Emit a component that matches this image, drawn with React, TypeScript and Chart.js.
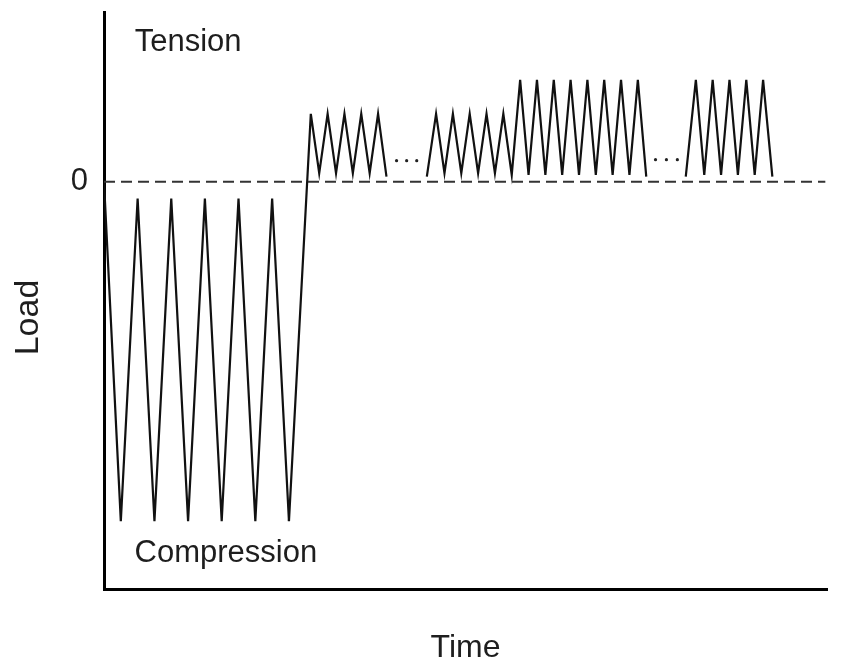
import React, { useEffect, useRef } from "react";
import { Chart, registerables } from "chart.js";

Chart.register(...registerables);

// ---- Data (time in arbitrary units, load in arbitrary units) ----
const compressionTime = [0, 1, 2, 3, 4, 5, 6, 7, 8, 9, 10, 11];
const compressionLoad = [0, -10, -0.5, -10, -0.5, -10, -0.5, -10, -0.5, -10, -0.5, -10];

const block1Time = [11, 12.3, 12.8, 13.3, 13.8, 14.3, 14.8, 15.3, 15.8, 16.3, 16.8];
const block1Load = [-10, 2, 0.25, 2, 0.25, 2, 0.25, 2, 0.25, 2, 0.15];

const block2Time = [
  19.2, 19.75, 20.25, 20.75, 21.25, 21.75, 22.25, 22.75, 23.25, 23.75, 24.25,
  24.75, 25.25, 25.75, 26.25, 26.75, 27.25, 27.75, 28.25, 28.75, 29.25, 29.75,
  30.25, 30.75, 31.25, 31.75, 32.25,
];
const block2Load = [
  0.15, 2, 0.25, 2, 0.25, 2, 0.25, 2, 0.25, 2, 0.2,
  3, 0.2, 3, 0.2, 3, 0.2, 3, 0.2, 3, 0.2, 3,
  0.2, 3, 0.2, 3, 0.15,
];

const block3Time = [34.6, 35.2, 35.7, 36.2, 36.7, 37.2, 37.7, 38.2, 38.7, 39.2, 39.75];
const block3Load = [0.15, 3, 0.2, 3, 0.2, 3, 0.2, 3, 0.2, 3, 0.15];

const zeroLineTime = [0, 42.9];
const zeroLineLoad = [0, 0];

const gapDots1Time = [17.4, 18.0, 18.6];
const gapDots1Load = [0.62, 0.62, 0.62];
const gapDots2Time = [32.8, 33.45, 34.1];
const gapDots2Load = [0.65, 0.65, 0.65];

const yTickValues = [0];
const xTitle = "Time";
const yTitle = "Load";
const yTitleLoad = -4.0; // vertical centre of the rotated y-axis title, in load units
const regionLabels = ["Tension", "Compression"];
const regionLabelTime = [5.0, 7.25];
const regionLabelLoad = [3.85, -11.2];

const FONT = "'Liberation Sans', Arial, Helvetica, sans-serif";
const TEXT_COLOR = "#1e1e1e";

const toPoints = (xs: number[], ys: number[]) => xs.map((x, i) => ({ x, y: ys[i] }));

const labelPlugin = {
  id: "chartLabels",
  afterDraw(chart: any) {
    const { ctx, scales } = chart;
    ctx.save();
    ctx.fillStyle = TEXT_COLOR;
    // region labels
    ctx.font = `31px ${FONT}`;
    ctx.textAlign = "center";
    ctx.textBaseline = "alphabetic";
    regionLabels.forEach((label, i) => {
      const px = scales.x.getPixelForValue(regionLabelTime[i]);
      const py = scales.y.getPixelForValue(regionLabelLoad[i]);
      ctx.fillText(label, px, py);
    });
    // y-axis title (rotated), placed inside the y scale's box
    const ys = scales.y;
    ctx.font = `34px ${FONT}`;
    ctx.textBaseline = "middle";
    ctx.translate(ys.left + 16, ys.getPixelForValue(yTitleLoad));
    ctx.rotate(-Math.PI / 2);
    ctx.fillText(yTitle, 0, 0);
    ctx.restore();
  },
};

export default function App() {
  const canvasRef = useRef<HTMLCanvasElement | null>(null);

  useEffect(() => {
    if (!canvasRef.current) return;
    const lineStyle = {
      borderColor: "#111111",
      borderWidth: 2.2,
      pointRadius: 0,
      fill: false,
      tension: 0,
    };
    const chart = new Chart(canvasRef.current, {
      type: "line",
      data: {
        datasets: [
          {
            label: "Zero",
            data: toPoints(zeroLineTime, zeroLineLoad),
            borderColor: "#333333",
            borderWidth: 2,
            borderDash: [11, 6],
            pointRadius: 0,
            fill: false,
          },
          { label: "Compression", data: toPoints(compressionTime, compressionLoad), ...lineStyle },
          { label: "Block 1", data: toPoints(block1Time, block1Load), ...lineStyle },
          { label: "Block 2", data: toPoints(block2Time, block2Load), ...lineStyle },
          { label: "Block 3", data: toPoints(block3Time, block3Load), ...lineStyle },
          {
            label: "Gap 1",
            data: toPoints(gapDots1Time, gapDots1Load),
            showLine: false,
            pointRadius: 1.6,
            pointBorderWidth: 0,
            pointBackgroundColor: "#222222",
          },
          {
            label: "Gap 2",
            data: toPoints(gapDots2Time, gapDots2Load),
            showLine: false,
            pointRadius: 1.6,
            pointBorderWidth: 0,
            pointBackgroundColor: "#222222",
          },
        ] as any,
      },
      options: {
        animation: false,
        responsive: false,
        devicePixelRatio: 1,
        layout: { padding: { left: 13, top: 12, right: 23, bottom: 0 } },
        plugins: {
          legend: { display: false },
          tooltip: { enabled: false },
        },
        scales: {
          x: {
            type: "linear",
            min: 0,
            max: 43,
            grid: { display: false, drawTicks: false },
            border: { display: true, color: "#000000", width: 3 },
            ticks: { display: false },
            afterFit: (scale: any) => {
              scale.height = 75;
              scale.paddingLeft = 0;
              scale.paddingRight = 0;
            },
            title: {
              display: true,
              text: xTitle,
              color: TEXT_COLOR,
              font: { family: FONT, size: 32, lineHeight: 1 },
              padding: { top: 43, bottom: 0 },
            },
          },
          y: {
            type: "linear",
            min: -12,
            max: 5,
            afterBuildTicks: (scale: any) => {
              scale.ticks = yTickValues.map((v) => ({ value: v }));
            },
            afterFit: (scale: any) => {
              scale.width = 91;
              scale.paddingTop = 0;
              scale.paddingBottom = 0;
            },
            grid: { display: false, drawTicks: false },
            border: { display: true, color: "#000000", width: 3 },
            ticks: {
              color: TEXT_COLOR,
              font: { family: FONT, size: 31 },
              padding: 16,
              callback: (v: any) => String(v),
            },
            title: { display: false, text: yTitle },
          },
        },
      } as any,
      plugins: [labelPlugin],
    });
    return () => chart.destroy();
  }, []);

  return (
    <div style={{ position: "fixed", left: 0, top: 0, width: 850, height: 664, background: "#ffffff" }}>
      <canvas ref={canvasRef} width={850} height={664} style={{ display: "block", width: 850, height: 664 }} />
    </div>
  );
}
